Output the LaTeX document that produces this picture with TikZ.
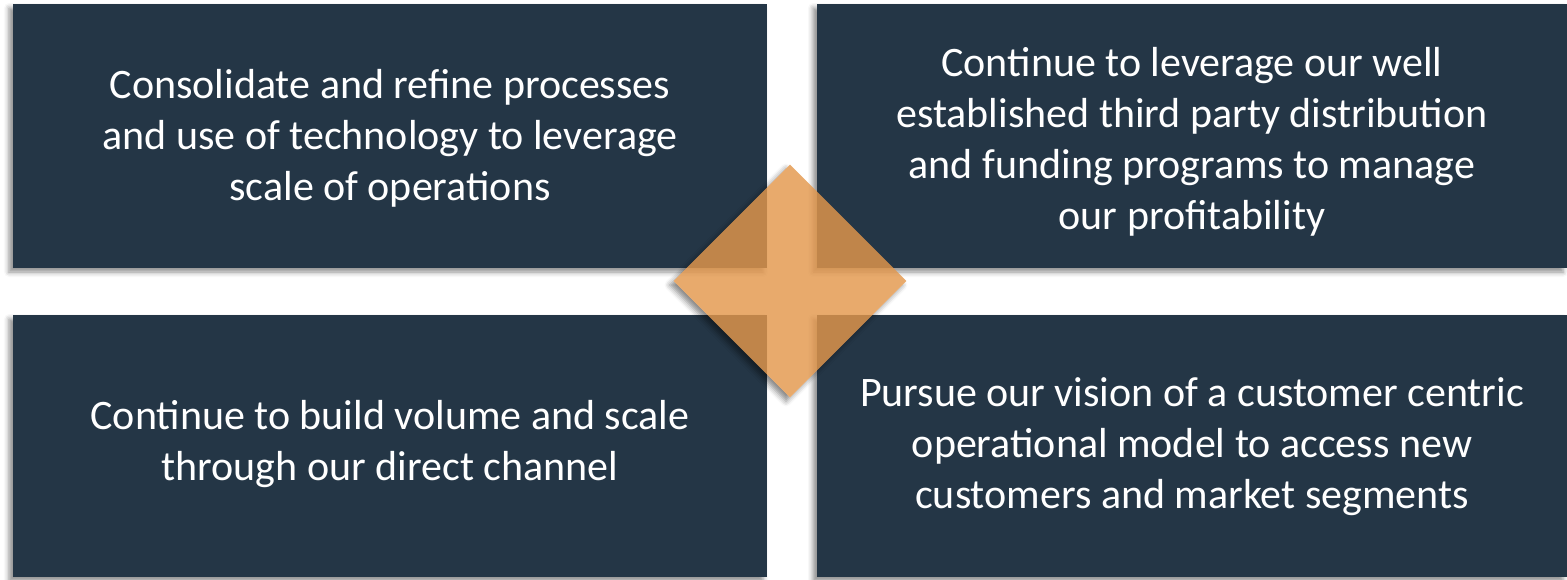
\documentclass[tikz,border=0pt]{standalone}
\usepackage{fontspec}
\setmainfont{Carlito}
\usetikzlibrary{shapes.geometric,shadows.blur}
\definecolor{navy}{RGB}{36,54,70}
\definecolor{orng}{RGB}{227,151,76}
\tikzset{
  card/.style={rectangle, fill=navy, inner sep=0pt,
    blur shadow={shadow xshift=-4pt, shadow yshift=-4pt, shadow blur radius=5pt, shadow opacity=45}},
  txt/.style={inner sep=0pt, text=white, align=center, font=\fontsize{42}{51}\selectfont},
  gem/.style={diamond, fill=orng, fill opacity=0.82, inner sep=0pt, minimum width=233pt, minimum height=233pt, aspect=1}
}
\begin{document}
\begin{tikzpicture}[x=1pt,y=-1pt]
\useasboundingbox (0,0) rectangle (1567,580);
\node[card, minimum width=754pt, minimum height=264pt] (tl) at (390,136) {};
\node[card, minimum width=750pt, minimum height=264pt] (tr) at (1192,136) {};
\node[card, minimum width=754pt, minimum height=262pt] (bl) at (390,446) {};
\node[card, minimum width=750pt, minimum height=262pt] (br) at (1192,446) {};
\node[txt, yshift=-2pt] (tlx) at (tl)
  {Consolidate and refine processes\\and use of technology to leverage\\scale of operations};
\node[txt, yshift=-6pt] (trx) at (tr)
  {Continue to leverage our well\\established third party distribution\\and funding programs to manage\\our profitability};
\node[txt, yshift=2pt] (blx) at (bl)
  {Continue to build volume and scale\\through our direct channel};
\node[txt, yshift=-1pt] (brx) at (br)
  {Pursue our vision of a customer centric\\operational model to access new\\customers and market segments};
\coordinate (c) at (790,281);
\begin{scope}[even odd rule]
  \clip (0,0) rectangle (1567,580)
    (790,164.5) -- (906.5,281) -- (790,397.5) -- (673.5,281) -- cycle;
  \path[blur shadow={shadow xshift=-4pt, shadow yshift=-4pt, shadow blur radius=5pt, shadow opacity=45}]
    (790,164.5) -- (906.5,281) -- (790,397.5) -- (673.5,281) -- cycle;
\end{scope}
\node[gem] (d) at (c) {};
\end{tikzpicture}
\end{document}
